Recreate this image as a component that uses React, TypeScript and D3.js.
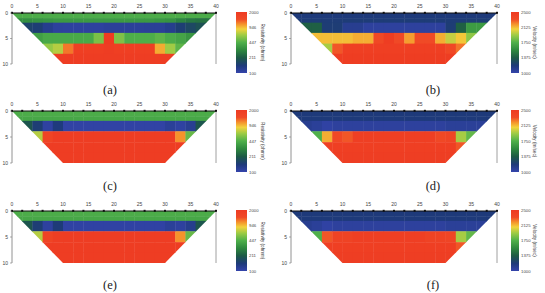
import * as React from 'react';
import * as d3 from 'd3';

// layer boundaries (m) and cell width (m)
const depthEdges = [0, 1, 1.9, 3.9, 6, 8, 10];
const cellWidth = 2;
const xTicks = [0, 5, 10, 15, 20, 25, 30, 35, 40];
const depthTicks = [0, 5, 10];
const electrodes = [0, 2, 4, 6, 8, 10, 12, 14, 16, 18, 20, 22, 24, 26, 28, 30, 32, 34, 36, 38, 40];

const resTicks = [100, 211, 447, 946, 2000];
const velTicks = [1000, 1375, 1750, 2125, 2500];

// resistivity (ohm.m), rows top -> bottom, 20 columns of 2 m
const panelA = [
  [430, 430, 430, 430, 430, 430, 430, 430, 430, 430, 430, 430, 430, 430, 430, 430, 430, 430, 430, 430],
  [330, 330, 340, 350, 360, 360, 360, 360, 360, 360, 360, 360, 360, 360, 350, 340, 300, 270, 260, 260],
  [180, 160, 150, 125, 112, 110, 110, 110, 110, 114, 114, 114, 114, 116, 116, 125, 150, 170, 190, 210],
  [300, 320, 380, 420, 420, 420, 420, 420, 550, 2000, 560, 440, 440, 440, 480, 430, 400, 350, 280, 260],
  [400, 450, 500, 620, 700, 1200, 1800, 1800, 1800, 1900, 1800, 1800, 1800, 1800, 1000, 650, 480, 400, 350, 300],
  [1900, 1900, 1900, 1900, 1900, 1900, 1900, 1900, 1900, 1900, 1900, 1900, 1900, 1900, 1900, 1900, 1900, 1900, 1900, 1900],
];
// velocity (m/sec)
const panelB = [
  [1180, 1180, 1180, 1180, 1180, 1180, 1180, 1180, 1180, 1180, 1180, 1180, 1180, 1180, 1180, 1180, 1180, 1180, 1180, 1180],
  [1190, 1190, 1190, 1190, 1190, 1190, 1190, 1190, 1190, 1190, 1190, 1190, 1190, 1190, 1190, 1190, 1190, 1200, 1200, 1200],
  [1400, 1400, 1400, 1200, 1200, 1100, 1100, 1050, 1050, 1050, 1050, 1050, 1050, 1050, 1050, 1200, 1400, 1650, 1650, 1650],
  [2000, 2000, 2120, 2120, 2120, 2120, 2150, 2150, 2350, 2480, 2330, 2180, 2320, 2320, 2150, 2000, 2100, 1900, 1850, 1800],
  [1900, 1900, 1900, 1950, 2300, 2450, 2450, 2450, 2450, 2450, 2450, 2450, 2450, 2450, 2450, 2350, 2250, 2200, 2200, 2200],
  [2480, 2480, 2480, 2480, 2480, 2480, 2480, 2480, 2480, 2480, 2480, 2480, 2480, 2480, 2480, 2480, 2480, 2480, 2480, 2480],
];
const panelC = [
  [430, 430, 430, 430, 430, 430, 430, 430, 430, 430, 430, 430, 430, 430, 430, 430, 430, 430, 430, 430],
  [410, 410, 410, 410, 410, 410, 410, 410, 410, 410, 410, 410, 410, 410, 410, 410, 410, 410, 410, 410],
  [250, 200, 150, 108, 140, 105, 105, 105, 105, 105, 105, 105, 105, 105, 105, 115, 108, 120, 200, 220],
  [500, 600, 700, 1600, 1900, 1900, 1900, 1900, 1900, 1900, 1900, 1900, 1900, 1900, 1900, 1900, 1100, 500, 450, 400],
  [1900, 1900, 1900, 1900, 1900, 1900, 1900, 1900, 1900, 1900, 1900, 1900, 1900, 1900, 1900, 1900, 1900, 1900, 1900, 1900],
  [1900, 1900, 1900, 1900, 1900, 1900, 1900, 1900, 1900, 1900, 1900, 1900, 1900, 1900, 1900, 1900, 1900, 1900, 1900, 1900],
];
const panelD = [
  [1180, 1180, 1180, 1180, 1180, 1180, 1180, 1180, 1180, 1180, 1180, 1180, 1180, 1180, 1180, 1180, 1180, 1180, 1180, 1180],
  [1180, 1180, 1180, 1180, 1180, 1180, 1180, 1180, 1180, 1180, 1180, 1180, 1180, 1180, 1180, 1180, 1180, 1180, 1180, 1180],
  [1150, 1100, 1070, 1030, 1050, 1050, 1050, 1050, 1050, 1050, 1050, 1050, 1050, 1050, 1050, 1070, 1070, 1070, 1070, 1100],
  [1700, 1700, 1750, 2150, 2350, 2300, 2450, 2450, 2450, 2450, 2450, 2450, 2450, 2450, 2350, 2380, 1950, 1800, 1800, 1800],
  [2450, 2450, 2450, 2450, 2450, 2450, 2450, 2450, 2450, 2450, 2450, 2450, 2450, 2450, 2450, 2450, 2300, 2300, 2300, 2300],
  [2460, 2460, 2460, 2460, 2460, 2460, 2460, 2460, 2460, 2460, 2460, 2460, 2460, 2460, 2460, 2460, 2460, 2460, 2460, 2460],
];
const panelE = [
  [430, 430, 430, 430, 430, 430, 430, 430, 430, 430, 430, 430, 430, 430, 430, 430, 430, 430, 430, 430],
  [410, 410, 410, 410, 410, 410, 410, 410, 410, 410, 410, 410, 410, 410, 410, 410, 410, 410, 410, 410],
  [250, 200, 150, 110, 145, 106, 106, 106, 106, 106, 106, 106, 106, 106, 106, 115, 110, 125, 200, 220],
  [500, 600, 700, 1600, 1850, 1900, 1900, 1900, 1900, 1900, 1900, 1900, 1900, 1900, 1900, 1900, 1100, 500, 450, 400],
  [1900, 1900, 1900, 1900, 1900, 1900, 1900, 1900, 1900, 1900, 1900, 1900, 1900, 1900, 1900, 1900, 1900, 1900, 1900, 1900],
  [1900, 1900, 1900, 1900, 1900, 1900, 1900, 1900, 1900, 1900, 1900, 1900, 1900, 1900, 1900, 1900, 1900, 1900, 1900, 1900],
];
const panelF = [
  [1180, 1180, 1180, 1180, 1180, 1180, 1180, 1180, 1180, 1180, 1180, 1180, 1180, 1180, 1180, 1180, 1180, 1180, 1180, 1180],
  [1180, 1180, 1180, 1180, 1180, 1180, 1180, 1180, 1180, 1180, 1180, 1180, 1180, 1180, 1180, 1180, 1180, 1180, 1180, 1180],
  [1150, 1100, 1070, 1030, 1050, 1050, 1050, 1050, 1050, 1050, 1050, 1050, 1050, 1050, 1050, 1070, 1070, 1070, 1070, 1100],
  [1700, 1700, 1750, 2300, 2400, 2400, 2450, 2450, 2450, 2450, 2450, 2450, 2450, 2400, 2400, 2380, 1950, 1800, 1800, 1800],
  [2450, 2450, 2450, 2450, 2450, 2450, 2450, 2450, 2450, 2450, 2450, 2450, 2450, 2450, 2450, 2450, 2300, 2300, 2300, 2300],
  [2460, 2460, 2460, 2460, 2460, 2460, 2460, 2460, 2460, 2460, 2460, 2460, 2460, 2460, 2460, 2460, 2460, 2460, 2460, 2460],
];

const rampColors = ['#3444ab', '#1e3a7a', '#1d5a45', '#2f8a3e', '#4fb04a', '#9ccb45', '#f2d23c', '#f5922c', '#f04a26', '#ee3b22'];
const rampStops = [0, 0.12, 0.25, 0.38, 0.5, 0.62, 0.72, 0.8, 0.88, 1];
const ramp = d3.scaleLinear<string>().domain(rampStops).range(rampColors).interpolate(d3.interpolateRgb).clamp(true);

const resT = d3.scaleLog().domain([100, 2000]).range([0, 1]).clamp(true);
const velT = d3.scaleLinear().domain([1000, 2500]).range([0, 1]).clamp(true);

type Layout = { x0: number; x1: number; y0: number; y1: number; cbX: number; cbW: number; cbY0: number; cbY1: number; lx: number; ly: number };

function Panel(props: { id: string; data: number[][]; kind: 'res' | 'vel'; L: Layout; label: string }) {
  const { id, data, kind, L, label } = props;
  const x = d3.scaleLinear().domain([0, 40]).range([L.x0, L.x1]);
  const y = d3.scaleLinear().domain([0, 10]).range([L.y0, L.y1]);
  const tScale = kind === 'res' ? resT : velT;
  const ticks = kind === 'res' ? resTicks : velTicks;
  const cb = d3.scaleLinear().domain([0, 1]).range([L.cbY1, L.cbY0]);
  const clip = `M${x(0)},${y(0)}L${x(40)},${y(0)}L${x(30)},${y(10)}L${x(10)},${y(10)}Z`;
  const gradId = `grad-${id}`;
  const clipId = `clip-${id}`;
  return (
    <g>
      <defs>
        <clipPath id={clipId}><path d={clip} /></clipPath>
        <linearGradient id={gradId} x1="0" y1="1" x2="0" y2="0">
          {rampStops.map((s, i) => <stop key={i} offset={s} stopColor={rampColors[i]} />)}
        </linearGradient>
      </defs>
      <g clipPath={`url(#${clipId})`}>
        {data.map((row, r) => row.map((v, c) => (
          <rect key={`${r}-${c}`} x={x(c * cellWidth)} y={y(depthEdges[r])}
            width={x(cellWidth) - x(0) + 0.4} height={y(depthEdges[r + 1]) - y(depthEdges[r]) + 0.4}
            fill={ramp(tScale(v))} />
        )))}
      </g>
      {/* frame lines */}
      <line x1={x(0)} x2={x(0)} y1={y(0)} y2={y(10)} stroke="#777" strokeWidth={0.8} />
      <line x1={x(40)} x2={x(40)} y1={y(0)} y2={y(10)} stroke="#888" strokeWidth={0.8} />
      <line x1={x(0)} x2={x(40)} y1={y(0)} y2={y(0)} stroke="#111" strokeWidth={1} />
      {electrodes.map(e => <rect key={e} x={x(e) - 1} y={y(0) - 1.2} width={2} height={2} fill="#111" />)}
      {xTicks.map(t => (
        <text key={t} x={x(t)} y={y(0) - 5} fontSize={5} textAnchor="middle" fill="#444" fontFamily="Arial, sans-serif">{t}</text>
      ))}
      {depthTicks.map(t => (
        <g key={t}>
          <line x1={x(0) - 2} x2={x(0)} y1={y(t)} y2={y(t)} stroke="#777" strokeWidth={0.6} />
          <text x={x(0) - 4} y={y(t) + 1.8} fontSize={5} textAnchor="end" fill="#444" fontFamily="Arial, sans-serif">{t}</text>
        </g>
      ))}
      {/* colorbar */}
      <rect x={L.cbX} y={L.cbY0} width={L.cbW} height={L.cbY1 - L.cbY0} fill={`url(#${gradId})`} />
      {ticks.map(t => (
        <text key={t} x={L.cbX + L.cbW + 2} y={cb(tScale(t)) + 1.6} fontSize={4.3} fill="#444" fontFamily="Arial, sans-serif">{t}</text>
      ))}
      <text transform={`translate(${L.cbX + L.cbW + 14},${(L.cbY0 + L.cbY1) / 2}) rotate(90)`} fontSize={4.6} textAnchor="middle"
        fill="#333" fontFamily="Arial, sans-serif">{kind === 'res' ? 'Resistivity (ohmm)' : 'Velocity (m/sec)'}</text>
      <text x={L.lx} y={L.ly} fontSize={12.5} textAnchor="middle" fill="#222" fontFamily="'Liberation Serif', 'Times New Roman', serif">{label}</text>
    </g>
  );
}

const left = { x0: 12, x1: 216, cbX: 236, cbW: 11, lx: 110 };
const right = { x0: 291, x1: 497, cbX: 511, cbW: 8, lx: 433 };
const rowsY = [
  { y0: 13, y1: 64, cbY0: 12, cbY1: 73, ly: 94 },
  { y0: 111, y1: 163, cbY0: 110, cbY1: 172, ly: 190 },
  { y0: 211, y1: 263, cbY0: 210, cbY1: 271, ly: 289 },
];

export default function App() {
  return (
    <svg width={545} height={293} style={{ position: 'absolute', left: 0, top: 0, background: '#fff' }}>
      <Panel id="a" data={panelA} kind="res" L={{ ...left, ...rowsY[0] }} label="(a)" />
      <Panel id="b" data={panelB} kind="vel" L={{ ...right, ...rowsY[0] }} label="(b)" />
      <Panel id="c" data={panelC} kind="res" L={{ ...left, ...rowsY[1] }} label="(c)" />
      <Panel id="d" data={panelD} kind="vel" L={{ ...right, ...rowsY[1] }} label="(d)" />
      <Panel id="e" data={panelE} kind="res" L={{ ...left, ...rowsY[2] }} label="(e)" />
      <Panel id="f" data={panelF} kind="vel" L={{ ...right, ...rowsY[2] }} label="(f)" />
    </svg>
  );
}
